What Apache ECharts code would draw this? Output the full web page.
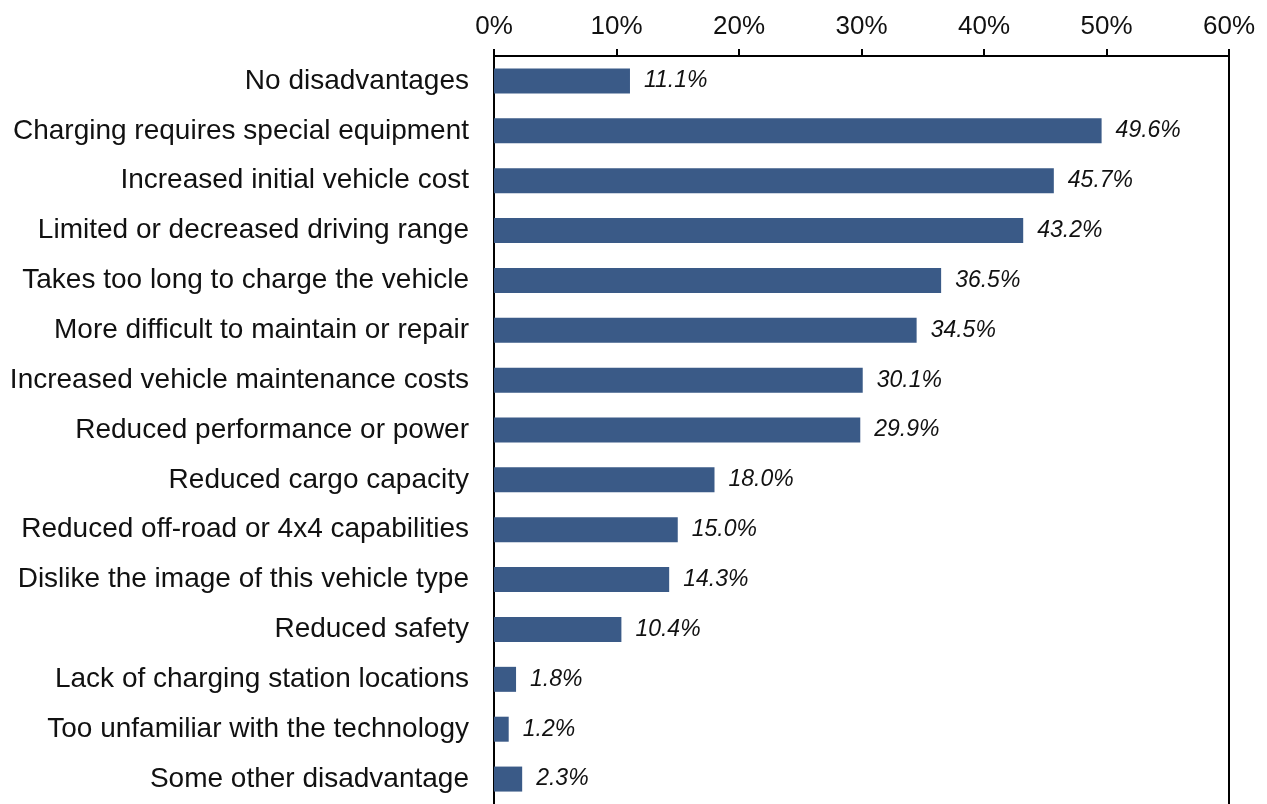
<!DOCTYPE html>
<html>
<head>
<meta charset="utf-8">
<script src="https://cdn.jsdelivr.net/npm/echarts@6/dist/echarts.min.js"></script>
<style>
  html, body { margin: 0; padding: 0; background: #fff; }
  #chart { width: 1267px; height: 804px; }
</style>
</head>
<body>
<div id="chart"></div>
<script>
// Perceived disadvantages, share of respondents (%)
const categories = [
  'No disadvantages',
  'Charging requires special equipment',
  'Increased initial vehicle cost',
  'Limited or decreased driving range',
  'Takes too long to charge the vehicle',
  'More difficult to maintain or repair',
  'Increased vehicle maintenance costs',
  'Reduced performance or power',
  'Reduced cargo capacity',
  'Reduced off-road or 4x4 capabilities',
  'Dislike the image of this vehicle type',
  'Reduced safety',
  'Lack of charging station locations',
  'Too unfamiliar with the technology',
  'Some other disadvantage'
];
const shares = [11.1, 49.6, 45.7, 43.2, 36.5, 34.5, 30.1, 29.9, 18.0, 15.0, 14.3, 10.4, 1.8, 1.2, 2.3];
const axisMax = 60;
const axisStep = 10;

const chart = echarts.init(document.getElementById('chart'));
const font = '"Liberation Sans", Arial, sans-serif';

chart.setOption({
  animation: false,
  grid: { left: 494, right: 38, top: 56, bottom: -3, containLabel: false },
  xAxis: {
    type: 'value',
    position: 'top',
    min: 0,
    max: axisMax,
    interval: axisStep,
    axisLine: { show: true, lineStyle: { color: '#000', width: 2 } },
    axisTick: { show: true, length: 7, inside: false, lineStyle: { color: '#000', width: 2 } },
    axisLabel: {
      margin: 16,
      color: '#111',
      fontFamily: font,
      fontSize: 26,
      formatter: v => v + '%'
    },
    splitLine: { show: false }
  },
  yAxis: [
    {
      type: 'category',
      data: categories,
      inverse: true,
      axisLine: { show: true, onZero: false, lineStyle: { color: '#000', width: 2 } },
      axisTick: { show: false },
      axisLabel: { margin: 25, color: '#111', fontFamily: font, fontSize: 28, padding: [6, 0, 0, 0] }
    },
    {
      type: 'category',
      data: categories,
      inverse: true,
      position: 'right',
      axisLine: { show: true, onZero: false, lineStyle: { color: '#000', width: 2 } },
      axisTick: { show: false },
      axisLabel: { show: false }
    }
  ],
  series: [{
    type: 'bar',
    data: shares,
    barWidth: 25,
    itemStyle: { color: '#3a5a87' },
    label: {
      show: true,
      position: 'right',
      distance: 14,
      fontFamily: font,
      fontSize: 23,
      fontStyle: 'italic',
      color: '#111',
      padding: [4, 0, 0, 0],
      formatter: p => p.value.toFixed(1) + '%'
    }
  }]
});
</script>
</body>
</html>
